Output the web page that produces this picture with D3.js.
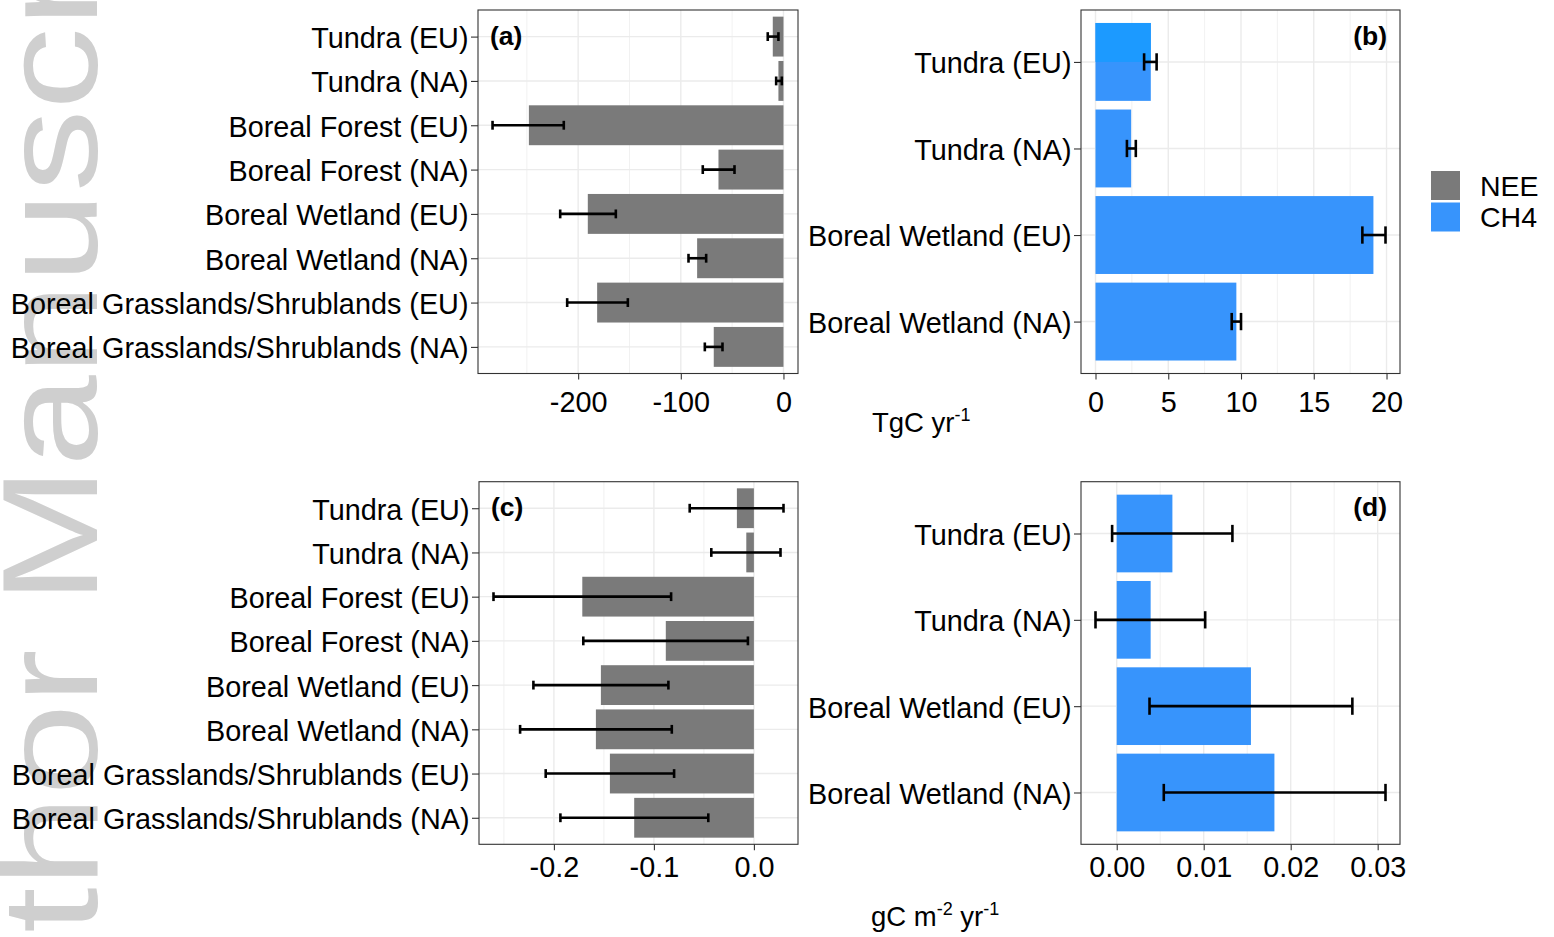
<!DOCTYPE html>
<html>
<head>
<meta charset="utf-8">
<script src="https://cdn.jsdelivr.net/npm/d3@7"></script>
<style>
  body { margin: 0; background: #fff; }
  svg { display: block; font-family: "Liberation Sans", Arial, sans-serif; }
</style>
</head>
<body>
<svg id="chart" width="1554" height="937"></svg>
<script>
// categories
const catNEE = ["Tundra (EU)", "Tundra (NA)", "Boreal Forest (EU)", "Boreal Forest (NA)",
  "Boreal Wetland (EU)", "Boreal Wetland (NA)",
  "Boreal Grasslands/Shrublands (EU)", "Boreal Grasslands/Shrublands (NA)"];
const catCH4 = ["Tundra (EU)", "Tundra (NA)", "Boreal Wetland (EU)", "Boreal Wetland (NA)"];

// (a) NEE totals, TgC yr-1
const neeTotal   = [-10.4, -4.9, -248, -63.3, -190.6, -84.1, -181.5, -67.9];
const neeTotalLo = [-15.3, -7.1, -283.4, -78.6, -217.5, -92.5, -210.7, -76.6];
const neeTotalHi = [-4.9, -1.6, -214, -47.7, -163.3, -75.3, -151.6, -59.4];

// (b) CH4 totals, TgC yr-1
const ch4Total   = [3.8, 2.45, 19.1, 9.68];
const ch4TotalLo = [3.34, 2.16, 18.34, 9.36];
const ch4TotalHi = [4.2, 2.77, 19.93, 10.0];

// (c) NEE per area, gC m-2 yr-1
const neeArea   = [-0.017, -0.0076, -0.1716, -0.0881, -0.153, -0.158, -0.144, -0.1197];
const neeAreaLo = [-0.0642, -0.0426, -0.2604, -0.1706, -0.2205, -0.2338, -0.2082, -0.1935];
const neeAreaHi = [0.0296, 0.0266, -0.0828, -0.006, -0.0855, -0.0821, -0.0798, -0.0456];

// (d) CH4 per area, gC m-2 yr-1
const ch4Area   = [0.0064, 0.0039, 0.01543, 0.01813];
const ch4AreaLo = [-0.00053, -0.00244, 0.00377, 0.00541];
const ch4AreaHi = [0.0133, 0.01017, 0.02709, 0.0309];

// ticks
const ticksA = [-200, -100, 0],            minorA = [-250, -150, -50];
const ticksB = [0, 5, 10, 15, 20],         minorB = [2.5, 7.5, 12.5, 17.5];
const ticksC = [-0.2, -0.1, 0.0],          minorC = [-0.25, -0.15, -0.05];
const ticksD = [0, 0.01, 0.02, 0.03],      minorD = [0.005, 0.015, 0.025];

const legendKeys = ["NEE", "CH4"];
const colors = {NEE: "#7a7a7a", CH4: "#3794fc"};
const FS = "28.8px";

const svg = d3.select("#chart");
svg.append("rect").attr("width", 1554).attr("height", 937).attr("fill", "#fff");

// watermark behind everything
const wm = svg.append("g")
  .attr("transform", "translate(97,604) rotate(-90) scale(1.22,1)")
  .attr("fill", "#cfcfcf")
  .style("font-size", "135px");
wm.append("text").attr("x", 0).text("Manuscript");
wm.append("text").attr("x", -37).attr("text-anchor", "end").text("Author");

function panel(opt) {
  const {x0, x1, y0, y1, cats, vals, lo, hi, color, ticks, minor, fmt, tag, tagRight, labelDrop} = opt;
  const g = svg.append("g");

  // x domain from data with ggplot-style 5% expansion
  const ext = d3.extent([0, ...vals, ...lo, ...hi]);
  const pad = (ext[1] - ext[0]) * 0.05;
  const x = d3.scaleLinear().domain([ext[0] - pad, ext[1] + pad]).range([x0, x1]);
  const y = d3.scalePoint().domain(cats).range([y0, y1]).padding(0.6);
  const step = y.step();

  // grid
  g.selectAll(".minor").data(minor).join("line")
    .attr("x1", d => x(d)).attr("x2", d => x(d)).attr("y1", y0).attr("y2", y1)
    .attr("stroke", "#ebebeb").attr("stroke-width", 0.7);
  g.selectAll(".major").data(ticks).join("line")
    .attr("x1", d => x(d)).attr("x2", d => x(d)).attr("y1", y0).attr("y2", y1)
    .attr("stroke", "#ebebeb").attr("stroke-width", 1.4);
  g.selectAll(".hgrid").data(cats).join("line")
    .attr("x1", x0).attr("x2", x1).attr("y1", d => y(d)).attr("y2", d => y(d))
    .attr("stroke", "#ebebeb").attr("stroke-width", 1.4);

  // bars
  g.selectAll(".bar").data(cats).join("rect")
    .attr("x", (d, i) => Math.min(x(0), x(vals[i])))
    .attr("width", (d, i) => Math.abs(x(vals[i]) - x(0)))
    .attr("y", d => y(d) - step * 0.45)
    .attr("height", step * 0.9)
    .attr("fill", color);

  if (opt.highlightFirst) {
    // lighter upper half on the first bar, as in the original figure
    g.append("rect")
      .attr("x", x(0)).attr("width", x(vals[0]) - x(0))
      .attr("y", y(cats[0]) - step * 0.45).attr("height", step * 0.45)
      .attr("fill", "#1c9aff");
  }

  // error bars
  const cap = step * 0.1;
  const eb = g.selectAll(".err").data(cats).join("g").attr("stroke", "#000").attr("stroke-width", 2.6);
  eb.append("line").attr("x1", (d, i) => x(lo[i])).attr("x2", (d, i) => x(hi[i]))
    .attr("y1", d => y(d)).attr("y2", d => y(d));
  eb.append("line").attr("x1", (d, i) => x(lo[i])).attr("x2", (d, i) => x(lo[i]))
    .attr("y1", d => y(d) - cap).attr("y2", d => y(d) + cap);
  eb.append("line").attr("x1", (d, i) => x(hi[i])).attr("x2", (d, i) => x(hi[i]))
    .attr("y1", d => y(d) - cap).attr("y2", d => y(d) + cap);

  // border
  g.append("rect").attr("x", x0).attr("y", y0).attr("width", x1 - x0).attr("height", y1 - y0)
    .attr("fill", "none").attr("stroke", "#333").attr("stroke-width", 1.1);

  // axes
  const ax = g.append("g").attr("transform", `translate(0,${y1})`)
    .call(d3.axisBottom(x).tickValues(ticks).tickFormat(d => fmt(d).replace("\u2212", "-"))
      .tickSize(6).tickPadding(labelDrop));
  const ay = g.append("g").attr("transform", `translate(${x0},0)`)
    .call(d3.axisLeft(y).tickSize(7).tickPadding(2.5));
  [ax, ay].forEach(a => {
    a.select(".domain").remove();
    a.selectAll(".tick line").attr("stroke", "#333").attr("stroke-width", 1.1);
    a.selectAll(".tick text").attr("fill", "#000").style("font-size", FS)
      .style("font-family", "'Liberation Sans', Arial, sans-serif");
  });
  ay.selectAll(".tick text").attr("dy", "0.38em");

  // panel tag
  g.append("text")
    .attr("x", tagRight ? x1 - 13 : x0 + 12)
    .attr("y", y0 + 34.5)
    .attr("text-anchor", tagRight ? "end" : "start")
    .style("font-size", "26.5px").style("font-weight", "bold")
    .text(tag);
}

const fmtInt = d3.format("d");
panel({x0: 478, x1: 798, y0: 10, y1: 373.5, cats: catNEE, vals: neeTotal, lo: neeTotalLo, hi: neeTotalHi,
  color: colors.NEE, ticks: ticksA, minor: minorA, fmt: fmtInt, tag: "(a)", labelDrop: 12});
panel({x0: 1081, x1: 1400, y0: 10, y1: 373.5, cats: catCH4, vals: ch4Total, lo: ch4TotalLo, hi: ch4TotalHi,
  color: colors.CH4, ticks: ticksB, minor: minorB, fmt: fmtInt, tag: "(b)", tagRight: true, labelDrop: 12,
  highlightFirst: true});
panel({x0: 479, x1: 798, y0: 481.7, y1: 844.3, cats: catNEE, vals: neeArea, lo: neeAreaLo, hi: neeAreaHi,
  color: colors.NEE, ticks: ticksC, minor: minorC, fmt: d3.format(".1f"), tag: "(c)", labelDrop: 6});
panel({x0: 1081, x1: 1400, y0: 481.7, y1: 844.3, cats: catCH4, vals: ch4Area, lo: ch4AreaLo, hi: ch4AreaHi,
  color: colors.CH4, ticks: ticksD, minor: minorD, fmt: d3.format(".2f"), tag: "(d)", tagRight: true, labelDrop: 6});

// axis titles with superscripts
function title(xPos, yPos, parts) {
  const t = svg.append("text").attr("x", xPos).attr("y", yPos).style("font-size", "27.5px");
  parts.forEach(p => {
    t.append("tspan")
      .attr("dy", p.sup ? -11 : (p.after ? 11 : 0))
      .style("font-size", p.sup ? "18px" : "27.5px")
      .text(p.t);
  });
}
title(872, 432, [{t: "TgC yr"}, {t: "-1", sup: true}]);
title(871, 926, [{t: "gC m"}, {t: "-2", sup: true}, {t: " yr", after: true}, {t: "-1", sup: true}]);

// legend
const leg = svg.append("g");
legendKeys.forEach((k, i) => {
  leg.append("rect").attr("x", 1431).attr("y", 171 + i * 31.5).attr("width", 29).attr("height", 29)
    .attr("fill", colors[k]);
  leg.append("text").attr("x", 1480).attr("y", 196 + i * 31.3).style("font-size", "28.5px").text(k);
});
</script>
</body>
</html>
